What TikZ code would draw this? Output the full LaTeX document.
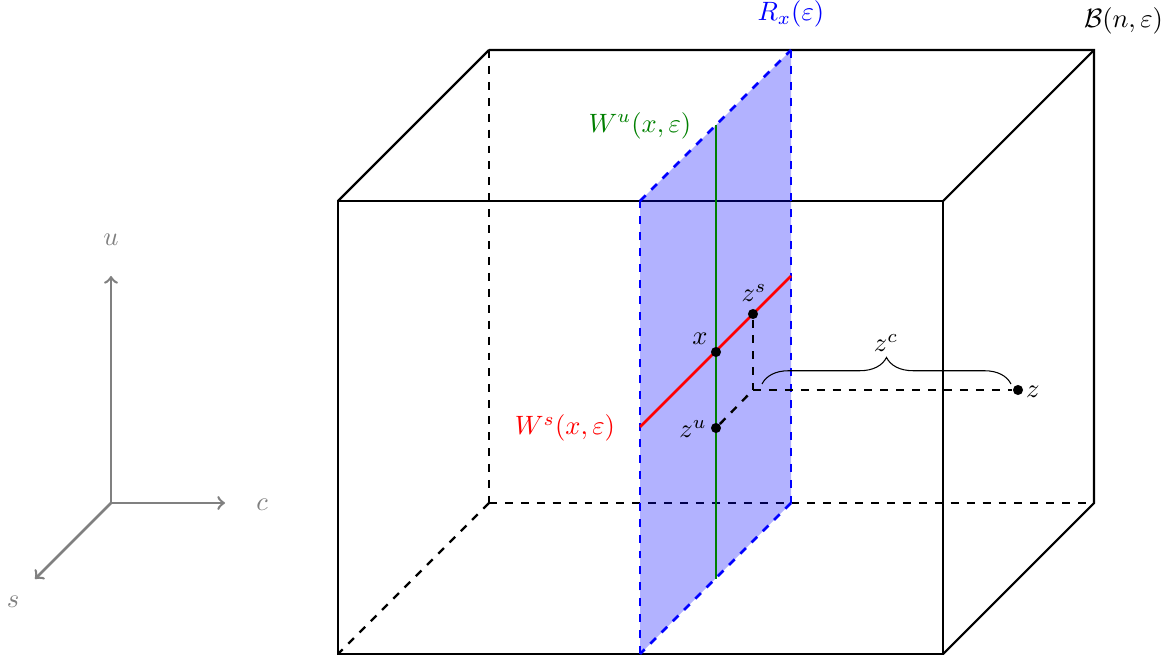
\documentclass[tikz,border=0pt]{standalone}
\usetikzlibrary{decorations.pathreplacing}
\tikzset{
  pt/.style={circle,fill=black,inner sep=0pt,minimum size=3.8pt},
  lbl/.style={inner sep=0pt},
  edge/.style={thick,black},
  hidden/.style={line width=0.9pt,black,dashed},
  axis/.style={line width=0.95pt,gray,->},
  planeface/.style={fill=blue,fill opacity=0.3,draw=none},
  planeedge/.style={line width=1pt,blue,dashed}
}
\begin{document}
\begin{tikzpicture}[x=0.013245cm,y=-0.013245cm]
\useasboundingbox (0,0) rectangle (1172,664);
% box vertices
\coordinate (A) at (338,201); \coordinate (B) at (943,201);
\coordinate (C) at (943,654); \coordinate (D) at (338,654);
\coordinate (E) at (489,50);  \coordinate (F) at (1094,50);
\coordinate (G) at (1094,503);\coordinate (H) at (489,503);
% plane vertices
\coordinate (P1) at (640,201); \coordinate (P2) at (791,50);
\coordinate (P3) at (791,503); \coordinate (P4) at (640,654);
% hidden edges
\draw[hidden] (E) -- (H); \draw[hidden] (H) -- (D); \draw[hidden] (H) -- (G);
% visible edges
\draw[edge] (A) -- (B) -- (C) -- (D) -- cycle;
\draw[edge] (E) -- (F) -- (G) -- (C);
\draw[edge] (A) -- (E); \draw[edge] (B) -- (F);
% plane
\fill[planeface] (P1) -- (P2) -- (P3) -- (P4) -- cycle;
\draw[planeedge] (P4) -- (P1); \draw[planeedge] (P1) -- (P2);
\draw[planeedge] (P2) -- (P3); \draw[planeedge] (P3) -- (P4);
% curves
\coordinate (Wu1) at (716,125); \coordinate (Wu2) at (716,579);
\coordinate (Ws1) at (640,427); \coordinate (Ws2) at (791,276);
\coordinate (K) at (753,390);
\draw[line width=1pt,green!50!black] (Wu1) -- (Wu2);
\draw[line width=1pt,red] (Ws1) -- (Ws2);
% points
\node[pt] (x) at (716,352) {};
\node[pt] (zs) at (753,314) {};
\node[pt] (zu) at (716,428) {};
\node[pt] (z) at (1018,390) {};
\draw[hidden] (zs) -- (K); \draw[hidden] (zu) -- (K); \draw[hidden] (K) -- (z);
% brace
\coordinate (Br1) at (762,384); \coordinate (Br2) at (1011,384);
\draw[decorate,decoration={brace,amplitude=10pt}] (Br1) -- (Br2);
% labels
\node[lbl] (lx) at (700,338.5) {$x$};
\node[lbl] (lzs) at (754,293) {$z^s$};
\node[lbl] (lzu) at (693,429) {$z^u$};
\node[lbl] (lz) at (1033,391.5) {$z$};
\node[lbl] (lzc) at (886,343) {$z^c$};
\node[lbl,text=blue] (lR) at (791,13.5) {$R_x(\varepsilon)$};
\node[lbl] (lB) at (1123.5,20.5) {$\mathcal{B}(n,\varepsilon)$};
\node[lbl,text=green!50!black] (lWu) at (640,125.5) {$W^u(x,\varepsilon)$};
\node[lbl,text=red] (lWs) at (565,428) {$W^s(x,\varepsilon)$};
% axes
\coordinate (O) at (111,503); \coordinate (Ue) at (111,276);
\coordinate (Ce) at (225,503); \coordinate (Se) at (35,579);
\draw[axis] (O) -- (Ue); \draw[axis] (O) -- (Ce); \draw[axis] (O) -- (Se);
\node[lbl,text=gray] (lu) at (111,239.5) {$u$};
\node[lbl,text=gray] (lc) at (262,504.5) {$c$};
\node[lbl,text=gray] (ls) at (13,601.5) {$s$};
\end{tikzpicture}
\end{document}
